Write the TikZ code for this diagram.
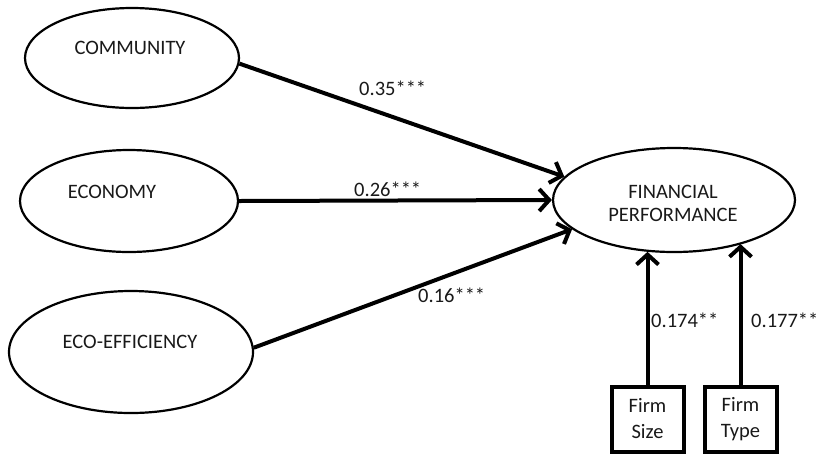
\documentclass[tikz,border=0pt]{standalone}
\usepackage{fontspec}
\setmainfont{Carlito}
\usetikzlibrary{arrows.meta,shapes.geometric}
\tikzset{
  lat/.style={draw, ellipse, line width=2.2pt, inner sep=0pt},
  lbl/.style={inner sep=0pt, font=\fontsize{20.5}{23}\selectfont, text=black!90},
  ctl/.style={draw, rectangle, line width=4pt, minimum width=72pt, minimum height=65pt, inner sep=0pt, align=center, font=\fontsize{20.5}{26}\selectfont, text=black!90},
  pth/.style={line width=4pt, -{Straight Barb[length=10pt,width=22pt]}},
  coef/.style={inner sep=0pt, anchor=west, font=\fontsize{20.5}{23}\selectfont, text=black!90}
}
\begin{document}
\begin{tikzpicture}[x=1pt,y=-1pt]
\useasboundingbox (0,0) rectangle (818,456);
% latent variables
\node[lat, minimum width=214pt, minimum height=100pt] (comm) at (132,58) {};
\node[lat, minimum width=218pt, minimum height=102pt] (econ) at (129,201) {};
\node[lat, minimum width=244pt, minimum height=122pt] (eco) at (131,352) {};
\node[lat, minimum width=242pt, minimum height=104pt] (fin) at (674,200) {};
% labels inside
\node[lbl] (commt) at (130,48) {COMMUNITY};
\node[lbl] (econt) at (112,192) {ECONOMY};
\node[lbl] (ecot) at (130,342) {ECO-EFFICIENCY};
\node[lbl, align=center] (fint) at (673,203) {FINANCIAL\\PERFORMANCE};
% control boxes
\node[ctl] (size) at (647.5,419) {Firm\\Size};
\node[ctl] (type) at (740.5,419) {Firm\\Type};
% paths
\draw[pth] (comm.-3) -- (fin.168);
\draw[pth] (econ.east) -- (fin.west);
\draw[pth] (eco.2) -- (fin.196);
\draw[pth] (size.north) -- (size.north |- fin.243);
\draw[pth] (type.north) -- (type.north |- fin.-33);
% coefficients
\node[coef] (c1) at (359,88) {0.35***};
\node[coef] (c2) at (354,189) {0.26***};
\node[coef] (c3) at (418,295) {0.16***};
\node[coef] (c4) at (651,320) {0.174**};
\node[coef] (c5) at (751,320) {0.177**};
\end{tikzpicture}
\end{document}
